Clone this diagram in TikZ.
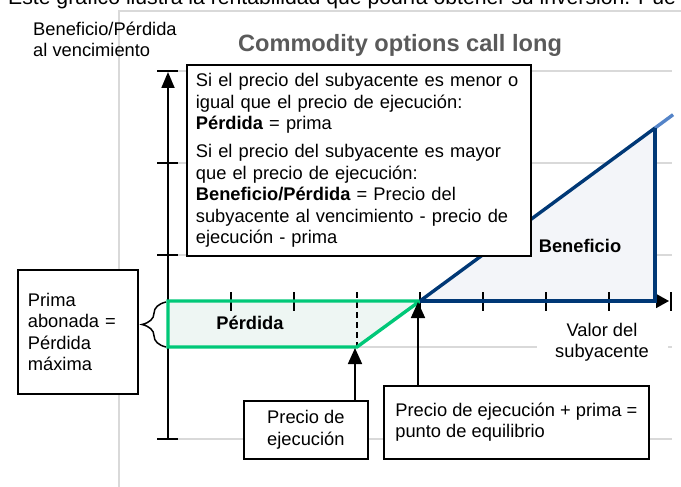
\documentclass[tikz,border=0pt]{standalone}
\usepackage{fontspec}
\setmainfont{Liberation Sans}
\usetikzlibrary{arrows.meta,positioning,decorations.pathreplacing,calc}

\definecolor{gridgray}{RGB}{217,217,217}
\definecolor{titlegray}{RGB}{90,90,90}
\definecolor{lossgreen}{RGB}{0,200,120}
\definecolor{lossfill}{RGB}{238,246,243}
\definecolor{profitblue}{RGB}{0,56,118}
\definecolor{profitlight}{RGB}{84,132,200}
\definecolor{profitfill}{RGB}{243,245,249}

\newcommand\bodysize{\fontsize{18.3}{21.5}\selectfont}
\newcommand\headsize{\fontsize{23.6}{27}\selectfont}
\newcommand\introsize{\fontsize{21.2}{24}\selectfont}

\tikzset{
    gridline/.style={gridgray, line width=1.5pt},
    frameline/.style={gridgray, line width=2pt},
    axisline/.style={black, line width=1.8pt},
    tickmark/.style={black, line width=1.8pt},
    payoff/.style={line width=3.4pt},
    infobox/.style={draw=black, line width=1.8pt, fill=white, font=\bodysize},
    pointer/.style={-{Triangle[length=16pt,width=14pt]}, line width=1.8pt},
}

\begin{document}
\begin{tikzpicture}[x=1pt, y=-1pt]
    \useasboundingbox (0,0) rectangle (681,487);

    \node[anchor=base west, inner sep=0, font=\introsize] (intro) at (8,4.5)
    {Este gráfico ilustra la rentabilidad que podría obtener su inversión. Pue};

    % chart frame and grid
    \draw[frameline] (119,487) -- (119,11) -- (681,11);
    \foreach \gy in {71,163,255,347,439}
        \draw[gridline] (168,\gy) -- (672,\gy);

    \node[anchor=north west, inner sep=0, align=left, font=\bodysize] (ylabel) at (33,21.5)
    {Beneficio/Pérdida\\al vencimiento};
    \node[anchor=base, inner sep=0, font=\headsize\bfseries, text=titlegray] (title) at (400,52)
    {Commodity options call long};

    \coordinate (origin) at (168,301);
    \coordinate (strike) at (357,347);
    \coordinate (breakeven) at (420,301);
    \coordinate (top) at (655,128);
    \coordinate (strikept) at (355,348);
    \coordinate (breakpt) at (418,302);

    % filled areas
    \fill[lossfill] (origin) -- (breakeven) -- (strike) -- (168,347) -- cycle;
    \fill[profitfill] (breakeven) -- (top) -- (655,301) -- cycle;

    % axes
    \draw[axisline, -{Triangle[length=16pt,width=13pt]}] (168,439) -- (168,72);
    \draw[axisline, -{Triangle[length=13pt,width=14pt]}] (origin) -- (669,301);
    \foreach \ty in {71,163,255,439}
        \draw[tickmark] (157,\ty) -- (178,\ty);
    \foreach \tx in {231,294,420,483,546,609}
        \draw[tickmark] (\tx,292) -- (\tx,311);
    \draw[tickmark] (671,292) -- (671,311);
    \draw[tickmark, dash pattern=on 6pt off 4pt] (357,292) -- (strike);

    % payoff lines
    \draw[payoff, lossgreen] (origin) -- (breakeven) -- (strike) -- (168,347) -- cycle;
    \draw[payoff, profitlight] (top) -- ($(breakeven)!1.077!(top)$);
    \draw[payoff, profitblue] (breakeven) -- (top);
    \draw[payoff, profitblue] (top) -- (655,301);
    \draw[payoff, profitblue] (breakeven) -- (657,301);

    \node[font=\bodysize\bfseries] (profit) at (580,246) {Beneficio};
    \node[font=\bodysize\bfseries] (loss) at (250,323) {Pérdida};
    \node[fill=white, align=center, font=\bodysize, minimum width=131pt, inner sep=1pt] (xlabel) at (602,342.5)
    {Valor del\\subyacente};

    % explanation boxes
    \node[infobox, anchor=north west, text width=326pt, inner xsep=9pt, minimum height=191pt, align=left] (rules) at (186,64)
    {Si el precio del subyacente es menor o\\
     igual que el precio de ejecución:\\
     \textbf{Pérdida} = prima\\[6.5pt]
     Si el precio del subyacente es mayor\\
     que el precio de ejecución:\\
     \textbf{Beneficio/Pérdida} = Precio del\\
     subyacente al vencimiento - precio de\\
     ejecución - prima};

    \node[infobox, anchor=north west, text width=100pt, inner xsep=10pt, minimum height=124pt, align=left] (premium) at (17,269)
    {Prima\\abonada =\\Pérdida\\máxima};
    \draw[decorate, decoration={brace, amplitude=24pt}, line width=1.5pt] (166,347) -- (166,302);

    \node[infobox, anchor=north west, minimum width=124pt, minimum height=58pt, align=center] (strikebox) at (243,400)
    {Precio de\\ejecución};
    \node[infobox, anchor=north west, minimum width=265pt, minimum height=73pt, align=left] (breakbox) at (383,385)
    {Precio de ejecución + prima =\\punto de equilibrio};

    \draw[pointer] (strikebox.north -| strikept) -- (strikept);
    \draw[pointer] (breakbox.north -| breakpt) -- (breakpt);
\end{tikzpicture}
\end{document}
